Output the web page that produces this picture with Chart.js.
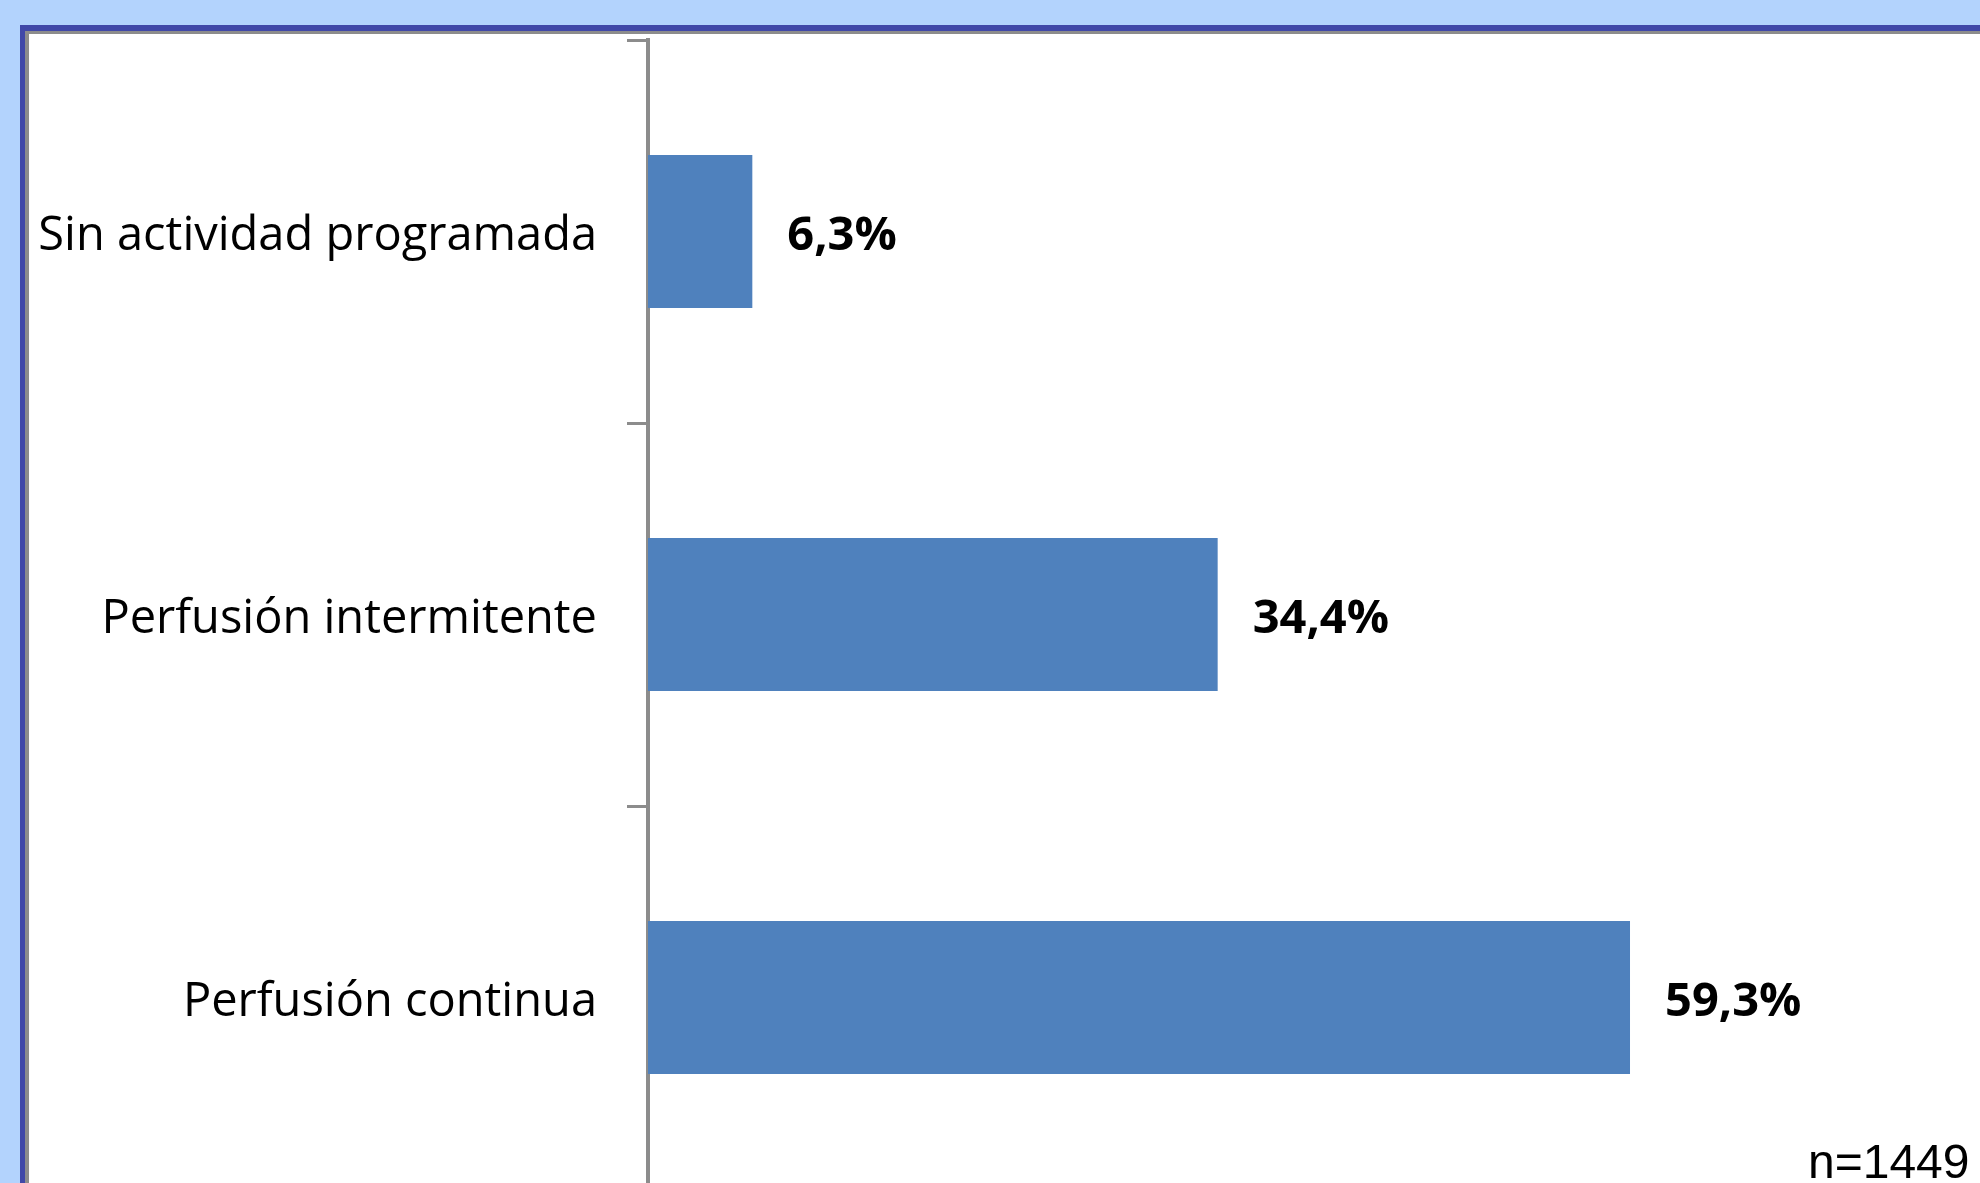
<!DOCTYPE html>
<html>
<head>
<meta charset="utf-8">
<script src="https://cdn.jsdelivr.net/npm/chart.js@4"></script>
<style>
  html, body { margin: 0; padding: 0; width: 1980px; height: 1183px; overflow: hidden; background: #b3d3fd; }
  #frame { position: absolute; left: 20px; top: 25px; width: 2400px; height: 1400px; background: #8c8c8c;
           border-left: 5px solid #4048a8; border-top: 6px solid #4048a8; }
  #panel { position: absolute; left: 4px; top: 3px; right: 0; bottom: 0; background: #fff; }
  #chart { position: absolute; left: 0; top: 0; }
  #note { position: absolute; left: 1808px; top: 1134px; font-family: "Liberation Sans", sans-serif;
          font-size: 48px; color: #000; white-space: nowrap; }
</style>
</head>
<body>
<div id="frame"><div id="panel"></div></div>
<canvas id="chart" width="2304" height="1189"></canvas>
<div id="note">n=1449</div>
<script>
var categories = ['Sin actividad programada', 'Perfusión intermitente', 'Perfusión continua'];
var percentages = [6.3, 34.4, 59.3];
var axisMin = 0;
var axisMax = 100;

// value labels to the right of each bar, like "59,3%"
var valueLabels = {
    id: 'valueLabels',
    afterDatasetsDraw: function(chart) {
        var ctx = chart.ctx;
        var meta = chart.getDatasetMeta(0);
        ctx.save();
        ctx.font = 'bold 47px "Open Sans", sans-serif';
        ctx.fillStyle = '#000';
        ctx.textAlign = 'left';
        ctx.textBaseline = 'middle';
        meta.data.forEach(function(bar, i) {
            var txt = percentages[i].toFixed(1).replace('.', ',') + '%';
            ctx.fillText(txt, bar.x + 35, bar.y + 5);
        });
        ctx.restore();
    }
};

var ctx = document.getElementById('chart').getContext('2d');
var chart = new Chart(ctx, {
    type: 'bar',
    data: {
        labels: categories,
        datasets: [{
            data: percentages,
            backgroundColor: '#4f81bd',
            borderWidth: 0,
            barPercentage: 0.4,
            categoryPercentage: 1
        }]
    },
    options: {
        indexAxis: 'y',
        responsive: false,
        animation: false,
        devicePixelRatio: 1,
        layout: { padding: { top: 40, left: 0, right: 0, bottom: 0 } },
        plugins: {
            legend: { display: false },
            tooltip: { enabled: false }
        },
        scales: {
            x: {
                display: false,
                min: axisMin,
                max: axisMax
            },
            y: {
                afterFit: function(scale) {
                    scale.width = 648;
                    scale.paddingTop = 0;
                    scale.paddingBottom = 0;
                },
                grid: {
                    offset: true,
                    drawOnChartArea: false,
                    drawTicks: true,
                    tickLength: 21,
                    lineWidth: 3,
                    color: '#8c8c8c'
                },
                border: { display: true, color: '#8c8c8c', width: 4 },
                ticks: {
                    padding: 30,
                    labelOffset: 5,
                    color: '#000',
                    font: { family: '"Open Sans", sans-serif', size: 47 }
                }
            }
        }
    },
    plugins: [valueLabels]
});
</script>
</body>
</html>
